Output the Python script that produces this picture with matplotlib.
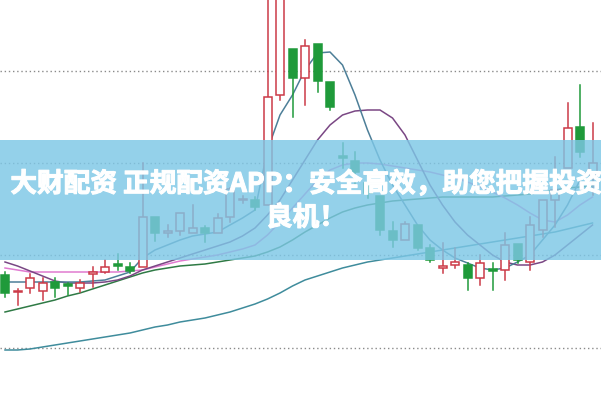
import matplotlib
matplotlib.use("Agg")
import matplotlib.pyplot as plt
from matplotlib.patches import Rectangle
import matplotlib.patheffects as pe

# ---- data (price units) ----
opens  = [12.5, 10.8, 11.2, 10.9, 11.8, 11.6, 11.2, 12.65, 12.8, 13.55, 13.3, 13.3, 18.3, 16.75, 16.9, 16.7,
          17.2, 16.7, 18.3, 20.0, 20.0, 19.5, 30.5, 35.1, 32.2, 35.6, 31.8, 24.35, 23.9, 21.7, 20.4, 16.9,
          16.0, 17.5, 15.2, 13.25, 13.5, 13.5, 12.2, 13.05, 13.0, 15.6, 13.8, 17.0, 20.0, 23.2, 27.3, 22.5]
highs  = [12.8, 11.1, 12.6, 12.2, 12.2, 11.7, 12.0, 13.3, 14.0, 14.6, 13.7, 23.7, 18.3, 17.5, 18.7, 19.5,
          17.4, 18.6, 21.2, 20.4, 20.3, 41.0, 43.0, 35.1, 36.0, 35.6, 31.8, 25.7, 24.8, 22.0, 20.4, 17.8,
          17.8, 17.5, 15.5, 15.7, 15.2, 13.7, 14.5, 13.7, 16.7, 15.6, 18.3, 20.0, 24.3, 29.7, 31.5, 27.7]
lows   = [10.3, 9.5, 10.7, 10.0, 10.3, 10.5, 10.8, 11.3, 12.7, 13.0, 12.7, 13.3, 15.9, 16.3, 16.5, 16.7,
          15.8, 16.7, 17.8, 19.7, 19.0, 19.5, 30.0, 28.3, 29.5, 30.8, 29.0, 23.2, 21.3, 20.2, 16.5, 15.3,
          16.0, 15.0, 13.8, 12.7, 13.2, 11.0, 11.5, 11.0, 12.0, 13.7, 13.0, 16.3, 17.3, 23.2, 24.3, 20.5]
closes = [10.7, 10.9, 12.2, 11.7, 11.2, 11.45, 11.7, 12.75, 13.3, 13.45, 12.9, 18.3, 16.7, 16.85, 18.7, 17.2,
          16.7, 18.2, 21.1, 20.1, 19.3, 30.3, 41.5, 32.2, 35.4, 31.9, 29.3, 24.2, 22.8, 20.7, 17.0, 16.0,
          17.6, 15.2, 14.0, 13.35, 13.8, 12.2, 13.7, 12.95, 15.5, 14.0, 17.5, 20.0, 21.0, 27.2, 24.8, 23.7]

ma5  = [11.8, 11.8, 11.8, 11.8, 11.8, 11.8, 11.8, 11.9, 12.0, 12.4, 12.8, 14.2, 15.0, 15.5, 16.0, 16.4,
        16.6, 16.8, 17.5, 18.2, 19.0, 25.0, 28.5, 30.5, 33.0, 34.7, 34.8, 33.5, 30.5, 27.0, 24.0, 21.5,
        19.5, 17.5, 16.0, 15.0, 14.2, 13.7, 13.2, 13.0, 13.2, 13.8, 14.5, 16.0, 17.5, 19.5, 22.0, 23.5]
ma10 = [13.8, 13.4, 12.9, 12.4, 11.9, 11.7, 11.7, 11.7, 11.8, 12.0, 12.4, 13.0, 13.4, 13.8, 14.2, 14.6,
        15.0, 15.4, 15.8, 16.4, 17.2, 18.5, 20.0, 22.0, 24.0, 26.0, 27.5, 28.5, 28.9, 29.0, 29.0, 28.2,
        26.5, 24.0, 21.5, 19.5, 17.8, 16.5, 15.5, 14.5, 13.8, 13.5, 13.5, 13.8, 14.5, 15.5, 16.5, 17.5]
ma20 = [13.2, 13.0, 12.8, 12.8, 12.8, 12.8, 12.8, 12.8, 12.8, 12.8, 12.9, 13.0, 13.3, 13.6, 13.9, 14.1,
        14.3, 14.5, 14.8, 15.1, 15.5, 16.5, 17.8, 19.2, 20.6, 22.0, 23.0, 23.5, 23.7, 23.7, 23.6, 23.4,
        23.2, 23.0, 22.8, 22.5, 22.2, 21.8, 21.3, 20.8, 20.2, 19.5, 18.7, 18.0, 17.8, 18.5, 19.5, 20.3]
ma30 = [8.8, 9.1, 9.4, 9.7, 10.0, 10.4, 10.7, 11.1, 11.5, 11.9, 12.3, 12.7, 13.0, 13.2, 13.4, 13.5,
        13.6, 13.8, 14.0, 14.2, 14.4, 14.8, 15.3, 16.0, 16.8, 17.5, 18.2, 18.8, 19.2, 19.5, 19.7, 19.9,
        20.0, 20.1, 20.2, 20.3, 20.3, 20.3, 20.3, 20.3, 20.4, 20.5, 20.6, 20.8, 21.0, 21.2, 21.3, 21.4]
ma60 = [5.0, 5.0, 5.1, 5.3, 5.5, 5.7, 5.9, 6.1, 6.3, 6.5, 6.7, 7.0, 7.3, 7.5, 7.8, 8.0,
        8.2, 8.5, 8.8, 9.2, 9.6, 10.1, 10.7, 11.4, 12.0, 12.4, 12.8, 13.2, 13.5, 13.8, 14.0, 14.2,
        14.4, 14.6, 14.8, 15.0, 15.2, 15.4, 15.6, 15.8, 16.0, 16.2, 16.4, 16.6, 16.8, 17.1, 17.4, 17.7]

grid_levels = [32.9, 23.7, 14.5, 5.2]
title_text = "大财配资 正规配资APP：安全高效，助您把握投资\n良机！"

# ---- figure ----
fig = plt.figure(figsize=(6.01, 4.0), dpi=100)
ax = fig.add_axes([0, 0, 1, 1])
ax.set_xlim(-0.4, 47.68)
ax.set_ylim(0, 40)
ax.axis("off")

for g in grid_levels:
    ax.axhline(g, color="#8a8a8a", lw=1.0, ls=(0, (1, 2)), zorder=1)

ax.plot(ma60, color="#3f8c9c", lw=1.1, zorder=2)
ax.plot(ma30, color="#2f7a45", lw=1.1, zorder=2)
ax.plot(ma20, color="#e07ad0", lw=1.1, zorder=2)
ax.plot(ma10, color="#7a4784", lw=1.1, zorder=2)
ax.plot(ma5,  color="#4d7f98", lw=1.1, zorder=2)

red = "#cc3a48"
green = "#1f9a3a"
w = 0.64
for i, (o, h, l, c) in enumerate(zip(opens, highs, lows, closes)):
    up = c >= o
    col = red if up else green
    lo_b, hi_b = min(o, c), max(o, c)
    ax.plot([i, i], [l, lo_b], color=col, lw=1.1, zorder=3)
    ax.plot([i, i], [hi_b, h], color=col, lw=1.1, zorder=3)
    hgt = max(hi_b - lo_b, 0.12)
    ax.add_patch(Rectangle((i - w / 2, lo_b), w, hgt,
                           facecolor="white" if up else col, edgecolor=col,
                           lw=1.1, zorder=4))

# translucent banner
ax.add_patch(Rectangle((0, 0.35), 1, 0.30, transform=ax.transAxes,
                       facecolor=(125/255, 199/255, 230/255), alpha=0.82,
                       edgecolor="none", zorder=10))
fig.text(0.509, 0.497, title_text, ha="center", va="center", color="white",
         fontsize=19.2, fontweight="bold", linespacing=1.32,
         family=["Noto Sans CJK SC", "DejaVu Sans"], zorder=11,
         path_effects=[pe.withStroke(linewidth=0.8, foreground="white")])

fig.savefig("out.png", dpi=100)
